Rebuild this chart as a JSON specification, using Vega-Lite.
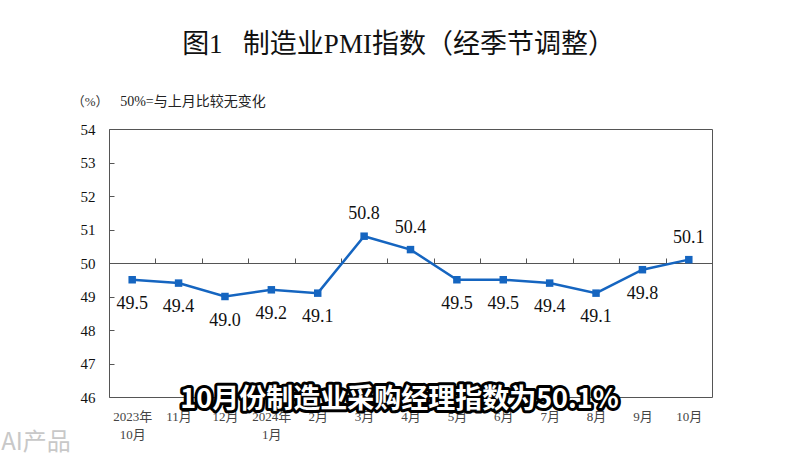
{
  "$schema": "https://vega.github.io/schema/vega-lite/v6.json",
  "autosize": {"type": "none"},
  "width": 603,
  "height": 268,
  "padding": {"left": 109, "top": 129, "right": 83, "bottom": 57},
  "background": "white",
  "config": {
    "view": {"stroke": "#555555", "strokeWidth": 1},
    "font": "Liberation Serif, Noto Sans CJK SC"
  },
  "title": {
    "text": "图1\u00a0\u00a0\u00a0制造业PMI指数（经季节调整）",
    "font": "Liberation Serif, Noto Sans CJK SC",
    "fontSize": 27,
    "fontWeight": "normal",
    "color": "#111111",
    "anchor": "middle",
    "frame": "group",
    "dx": -12,
    "offset": 36
  },
  "data": {
    "values": [
      {"m": "2023年|10月", "v": 49.5},
      {"m": "11月", "v": 49.4},
      {"m": "12月", "v": 49.0},
      {"m": "2024年|1月", "v": 49.2},
      {"m": "2月", "v": 49.1},
      {"m": "3月", "v": 50.8},
      {"m": "4月", "v": 50.4},
      {"m": "5月", "v": 49.5},
      {"m": "6月", "v": 49.5},
      {"m": "7月", "v": 49.4},
      {"m": "8月", "v": 49.1},
      {"m": "9月", "v": 49.8},
      {"m": "10月", "v": 50.1}
    ]
  },
  "encoding": {
    "x": {"field": "m", "type": "nominal",
          "scale": {"type": "band", "paddingInner": 0, "paddingOuter": 0,
                    "domain": ["2023年|10月", "11月", "12月", "2024年|1月", "2月", "3月", "4月", "5月", "6月", "7月", "8月", "9月", "10月"]},
          "axis": {"orient": "bottom", "title": null, "domain": false, "ticks": false,
                   "grid": true, "tickBand": "extent", "gridColor": "#555555", "gridWidth": 1,
                   "gridDash": [0, 129, 5, 400],
                   "labelAngle": 0, "labelFont": "Liberation Serif, Noto Sans CJK SC",
                   "labelFontSize": 13, "labelColor": "#444444", "labelPadding": 13,
                   "labelLineHeight": 18, "labelBaseline": "top",
                   "labelExpr": "split(datum.label, '|')"}},
    "y": {"field": "v", "type": "quantitative",
          "scale": {"domain": [46, 54], "zero": false, "nice": false},
          "axis": {"title": null, "values": [46, 47, 48, 49, 50, 51, 52, 53, 54],
                   "grid": true, "gridWidth": 1,
                   "gridColor": {"condition": {"test": "datum.value === 50", "value": "#555555"}, "value": "transparent"},
                   "domain": false, "offset": -5, "tickSize": 5, "tickColor": "#555555",
                   "labelOverlap": false, "labelFont": "Liberation Serif", "labelFontSize": 15,
                   "labelColor": "#111111", "labelPadding": 14}}
  },
  "layer": [
    {
      "mark": {"type": "line", "color": "#1565c0", "strokeWidth": 2.5,
               "point": {"shape": "square", "size": 56, "filled": true, "color": "#1565c0"}}
    },
    {
      "transform": [{"filter": "datum.v > 50"}],
      "mark": {"type": "text", "font": "Liberation Serif", "fontSize": 18, "color": "#111111",
               "baseline": "middle", "dy": -22},
      "encoding": {"text": {"field": "v", "type": "quantitative", "format": ".1f"}}
    },
    {
      "transform": [{"filter": "datum.v < 50"}],
      "mark": {"type": "text", "font": "Liberation Serif", "fontSize": 18, "color": "#111111",
               "baseline": "middle", "dy": 24},
      "encoding": {"text": {"field": "v", "type": "quantitative", "format": ".1f"}}
    },
    {
      "data": {"values": [{"t": "（%）", "m": "2023年|10月", "v": 54.8}]},
      "mark": {"type": "text", "font": "Liberation Serif, Noto Sans CJK SC", "fontSize": 13,
               "color": "#333333", "align": "center", "baseline": "middle", "dx": -42},
      "encoding": {"text": {"field": "t", "type": "nominal"}}
    },
    {
      "data": {"values": [{"t": "50%=与上月比较无变化", "m": "2023年|10月", "v": 54.8}]},
      "mark": {"type": "text", "font": "Liberation Serif, Noto Sans CJK SC", "fontSize": 14,
               "color": "#222222", "align": "left", "baseline": "middle", "dx": -12},
      "encoding": {"text": {"field": "t", "type": "nominal"}}
    },
    {
      "data": {"values": [{"t": "10月份制造业采购经理指数为50.1%", "m": "4月", "v": 45.9}]},
      "mark": {"type": "text", "font": "Noto Sans CJK SC", "fontSize": 27, "fontWeight": "bold",
               "color": "#000000", "stroke": "#000000", "strokeWidth": 6, "strokeJoin": "round",
               "align": "center", "baseline": "middle", "dx": -11},
      "encoding": {"text": {"field": "t", "type": "nominal"}}
    },
    {
      "data": {"values": [{"t": "10月份制造业采购经理指数为50.1%", "m": "4月", "v": 45.9}]},
      "mark": {"type": "text", "font": "Noto Sans CJK SC", "fontSize": 27, "fontWeight": "bold",
               "color": "#ffffff", "align": "center", "baseline": "middle", "dx": -11},
      "encoding": {"text": {"field": "t", "type": "nominal"}}
    },
    {
      "data": {"values": [{"t": "AI产品", "m": "2023年|10月", "v": 44.62}]},
      "mark": {"type": "text", "font": "Noto Sans CJK SC", "fontSize": 24,
               "color": "#c8c8c8", "align": "left", "baseline": "middle", "dx": -131},
      "encoding": {"text": {"field": "t", "type": "nominal"}}
    }
  ]
}
